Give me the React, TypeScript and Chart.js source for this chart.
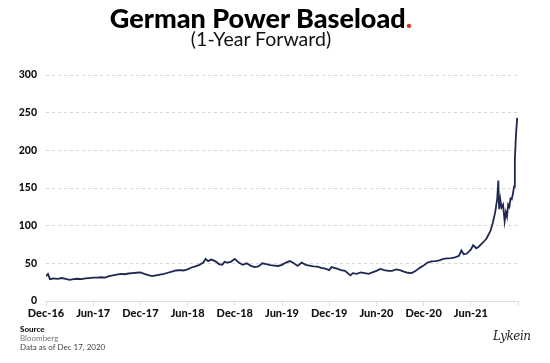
import React, { useEffect, useRef } from "react";
import { Chart, registerables } from "chart.js";

Chart.register(...registerables);

// Months since mid-December 2016
const months = [
  0, 0.25, 0.5, 1, 1.5, 2, 2.5, 3, 3.5, 4, 4.5, 5, 5.5, 6, 6.5, 7, 7.5, 8, 8.5, 9, 9.5, 10, 10.5, 11, 11.5,
  12, 12.5, 13, 13.5, 14, 14.5, 15, 15.5, 16, 16.5, 17, 17.5, 18, 18.5, 19, 19.5, 20, 20.3, 20.6, 21, 21.5,
  22, 22.4, 22.7, 23, 23.5, 24, 24.5, 25, 25.5, 26, 26.5, 27, 27.5, 28, 28.5, 29, 29.5, 30, 30.5, 31, 31.5,
  32, 32.5, 33, 33.5, 34, 34.5, 35, 35.5, 36, 36.3, 37, 37.5, 38, 38.7, 39, 39.5, 40, 40.5, 41, 41.5, 42,
  42.5, 43, 43.5, 44, 44.5, 45, 45.5, 46, 46.5, 47, 47.5, 48, 48.5, 49, 49.5, 50, 50.5, 51, 51.5, 52, 52.5,
  52.8, 53.1, 53.5, 54, 54.3, 54.7, 55, 55.5, 56, 56.5, 56.8, 57.1, 57.35, 57.5, 57.6, 57.75, 57.9, 58.1,
  58.3, 58.45, 58.6, 58.75, 58.9, 59.05, 59.2, 59.35, 59.5, 59.6, 59.75, 59.9,
];

// EUR/MWh
const prices = [
  33, 36, 29, 30, 29.5, 30.5, 29.5, 28, 29, 29.5, 29, 30, 30.5, 31, 31, 31.5, 31, 33, 34, 35, 36, 35.5, 36.5, 37, 37.5,
  38, 36, 34.5, 33, 34, 35, 36, 37.5, 39, 40.5, 41, 40.5, 42, 44.5, 46, 48, 51, 56, 53, 55, 53,
  49, 48, 52, 51, 52, 56, 51, 48, 50, 47, 45, 46, 50, 49, 47.5, 47, 46.5, 48, 51, 53, 50,
  46.5, 51, 48, 47, 46, 45.5, 44, 43, 41, 45, 43, 41, 40, 34, 37, 36, 38, 37, 36, 38, 40,
  42.5, 41, 40, 40, 42, 41, 39, 37.5, 37, 40, 44, 47, 51, 52.5, 53, 54, 56, 56.5, 57, 58, 60,
  67, 62, 63, 68, 74, 70, 72, 77, 83, 93, 104, 118, 135, 160, 122, 135, 124, 128,
  106, 118, 112, 128, 125, 136, 135, 142, 152, 188, 222, 243,
];

const xTickLabels = [
  "Dec-16", "Jun-17", "Dec-17", "Jun-18", "Dec-18", "Jun-19", "Dec-19", "Jun-20", "Dec-20", "Jun-21",
];

const yTicks = [0, 50, 100, 150, 200, 250, 300];

export default function App() {
  const canvasRef = useRef<HTMLCanvasElement | null>(null);

  useEffect(() => {
    document.body.style.margin = "0";
    const canvas = canvasRef.current;
    if (!canvas) return;
    const chart = new Chart(canvas, {
      type: "line",
      data: {
        datasets: [
          {
            data: months.map((m, i) => ({ x: m, y: prices[i] })),
            borderColor: "#1f2850",
            borderWidth: 1.8,
            pointRadius: 0,
            tension: 0,
            fill: false,
          },
        ],
      },
      options: {
        animation: false,
        responsive: false,
        maintainAspectRatio: false,
        layout: { padding: { left: 0, right: 32, top: 75, bottom: 42 } },
        plugins: {
          legend: { display: false },
          tooltip: { enabled: false },
          title: { display: false },
        },
        scales: {
          x: {
            type: "linear",
            min: 0,
            max: 60,
            afterFit: (s: any) => {
              s.height = 20;
            },
            afterBuildTicks: (s: any) => {
              s.ticks = xTickLabels.map((_, i) => ({ value: i * 6 })).concat([{ value: 60 }]);
            },
            grid: {
              drawOnChartArea: false,
              drawTicks: true,
              tickLength: 5,
              color: "#dcdcdc",
              lineWidth: 1,
            },
            border: { display: true, color: "#dcdcdc", width: 1 },
            ticks: {
              autoSkip: false,
              maxRotation: 0,
              padding: 1,
              color: "#111",
              font: { family: "Lato", weight: 900, size: 11 },
              callback: (v: any) => xTickLabels[Math.round(Number(v) / 6)] ?? "",
            },
          },
          y: {
            min: 0,
            max: 300,
            afterFit: (s: any) => {
              s.width = 46;
            },
            afterBuildTicks: (s: any) => {
              s.ticks = yTicks.map((v) => ({ value: v }));
            },
            grid: {
              drawTicks: false,
              color: (ctx: any) => (ctx.tick && ctx.tick.value === 0 ? "rgba(0,0,0,0)" : "#d6d6d6"),
              lineWidth: 1,
            },
            border: { display: false, dash: [3, 3] },
            ticks: {
              padding: 9,
              color: "#111",
              font: { family: "Lato", weight: 900, size: 10.5 },
              callback: (v: any) => String(v),
            },
          },
        },
      },
    });
    return () => chart.destroy();
  }, []);

  return (
    <div style={{ position: "relative", width: 550, height: 363, background: "#fff", overflow: "hidden" }}>
      <canvas ref={canvasRef} width={550} height={363} style={{ position: "absolute", left: 0, top: 0 }} />
      <div
        style={{
          position: "absolute",
          left: -14,
          top: 2,
          width: 550,
          textAlign: "center",
          fontFamily: "Lato",
          fontWeight: 900,
          fontSize: 27,
          lineHeight: "32px",
          color: "#000",
        }}
      >
        German Power Baseload<span style={{ color: "#d8362b" }}>.</span>
      </div>
      <div
        style={{
          position: "absolute",
          left: -14,
          top: 27,
          width: 550,
          textAlign: "center",
          fontFamily: "Lato",
          fontWeight: 400,
          fontSize: 19.5,
          lineHeight: "24px",
          color: "#111",
        }}
      >
        (1-Year Forward)
      </div>
      <div
        style={{
          position: "absolute",
          left: 20,
          top: 325,
          fontFamily: "Lato",
          fontSize: 8,
          lineHeight: "9px",
          color: "#555",
        }}
      >
        <div style={{ fontWeight: 900, color: "#111" }}>Source</div>
        <div style={{ color: "#777" }}>Bloomberg</div>
        <div style={{ color: "#444" }}>Data as of Dec 17, 2020</div>
      </div>
      <div
        style={{
          position: "absolute",
          left: 493,
          top: 327,
          fontFamily: "DejaVu Serif",
          fontStyle: "italic",
          fontSize: 12,
          lineHeight: "18px",
          color: "#222",
          letterSpacing: -0.5,
        }}
      >
        Lykein
      </div>
    </div>
  );
}
